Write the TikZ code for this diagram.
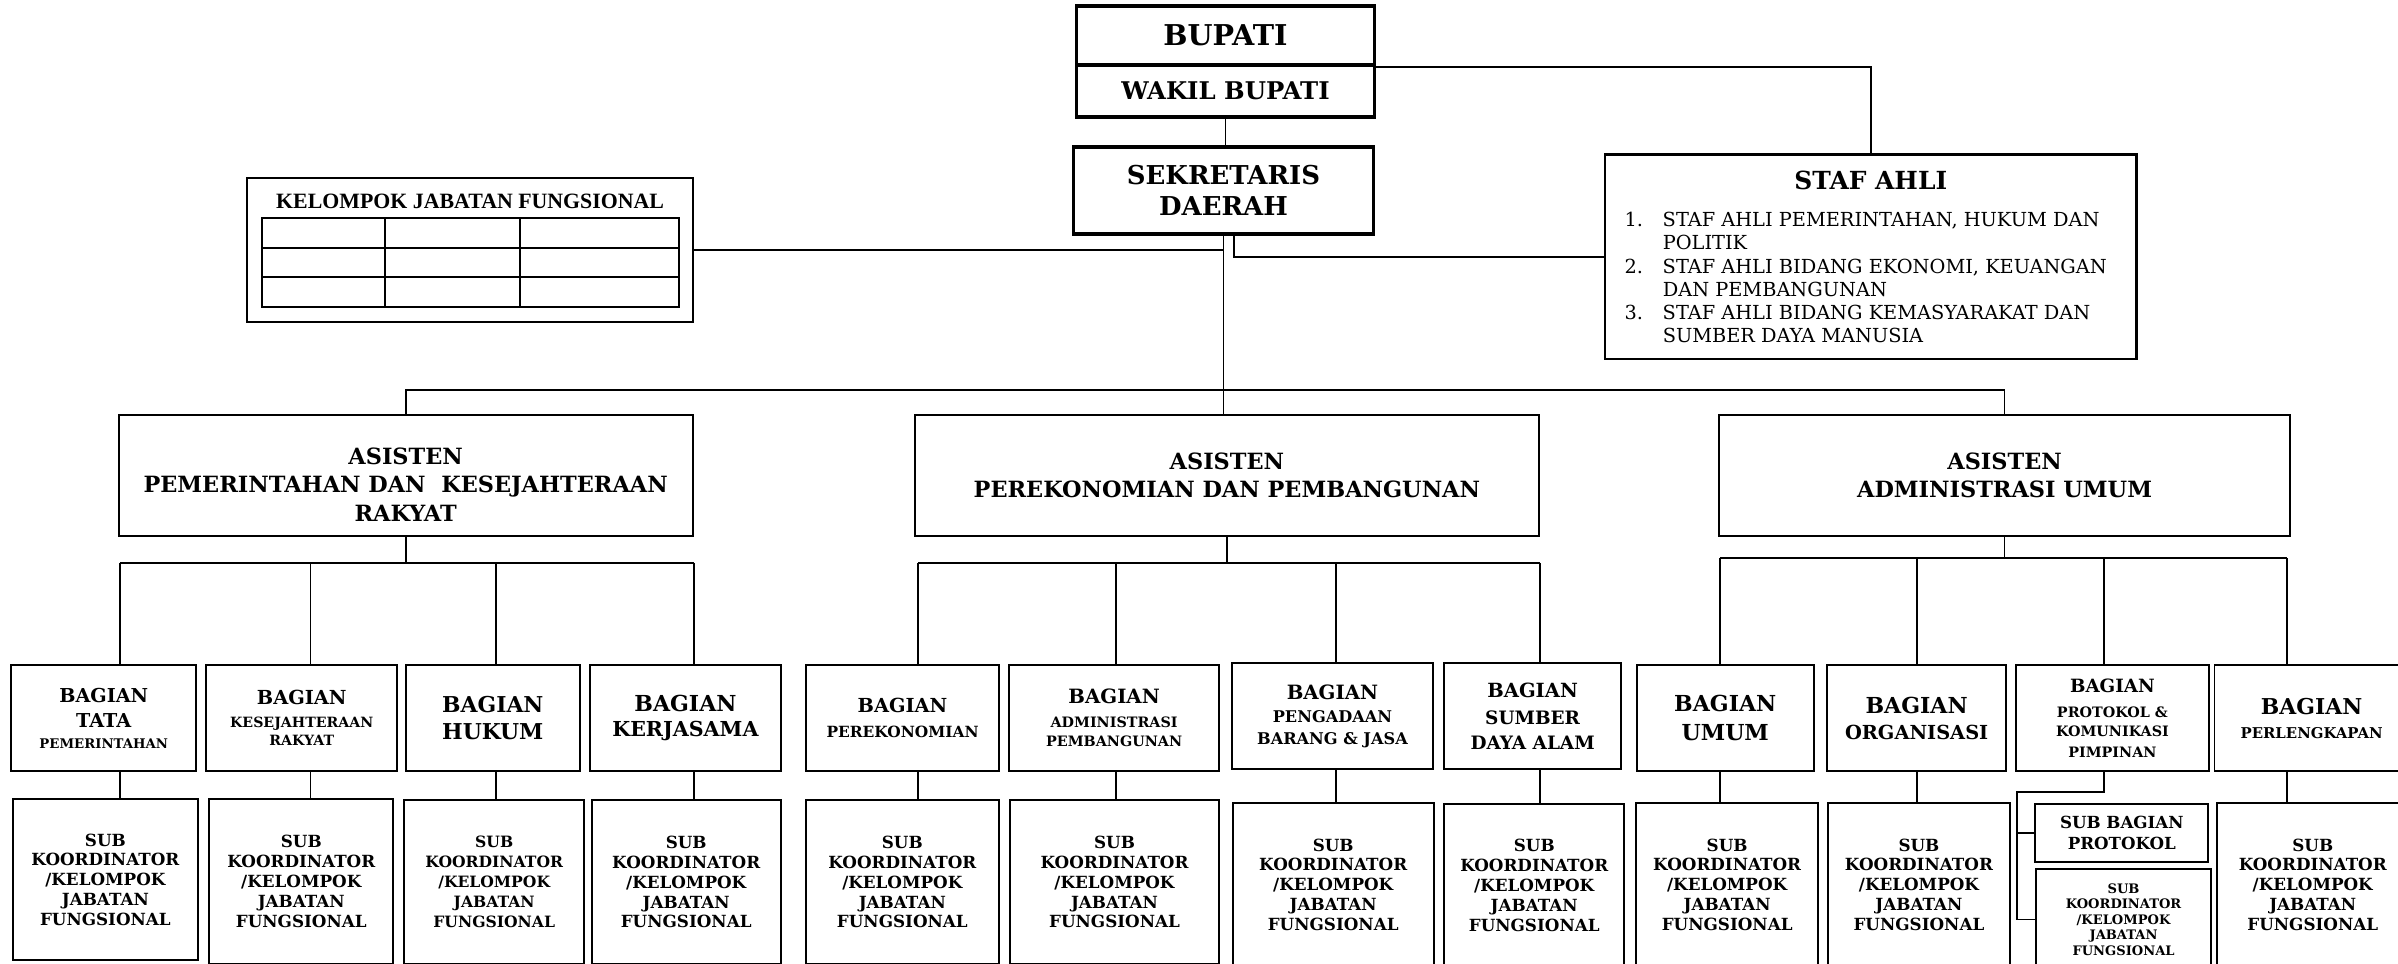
\documentclass[tikz,border=0pt]{standalone}
\usepackage{fontspec}
\setmainfont{DejaVu Serif}
\newfontfamily\judulfont{Liberation Serif}

\begin{document}
\begin{tikzpicture}[x=0.3mm,y=-0.3mm,
  kotak/.style={draw, line width=1.1pt, align=center, inner sep=0pt, font=\bfseries},
  pokok/.style={kotak, line width=1.9pt},
  uk/.style 2 args={font=\fontsize{#1}{#2}\selectfont\bfseries},
  garis/.style={line width=1pt}]
  \useasboundingbox (0,0) rectangle (1568,630);
  % pimpinan
  \node[pokok, uk={16}{19}, minimum width=58.4mm, minimum height=11.55mm] (bupati) at (801.3,23.25) {BUPATI};
  \node[pokok, uk={13.6}{16}, minimum width=58.4mm, minimum height=10.2mm] (wakil) at (801.3,59.5) {WAKIL BUPATI};
  \node[pokok, uk={14.5}{17}, minimum width=58.8mm, minimum height=17.1mm] (sekda) at (800,124.5) {SEKRETARIS\\DAERAH};
  % kelompok jabatan fungsional, with its empty table
  \node[kotak, line width=0.9pt, minimum width=87.45mm, minimum height=28.2mm] (kjf) at (307.25,163.5) {};
  \node[font=\judulfont\bfseries\fontsize{12.2}{14}\selectfont, inner sep=0pt] (kjfjudul) at (307.4,132) {KELOMPOK JABATAN FUNGSIONAL};
  \draw[line width=1.1pt] (171.5,142.5) rectangle (444,200.7);
  \foreach \yy in {162,181} \draw[line width=1.1pt] (171.5,\yy) -- (444,\yy);
  \foreach \xx in {252,340} \draw[line width=1.1pt] (\xx,142.5) -- (\xx,200.7);
  % staf ahli
  \node[kotak, line width=1.2pt, minimum width=104.25mm, minimum height=40.2mm] (staf) at (1223.25,168) {};
  \node[uk={13.9}{16}, inner sep=0pt] (stafjudul) at (1223.25,118) {STAF AHLI};
  \node[font=\fontsize{10.8}{13}\selectfont, align=left, anchor=north west, inner sep=0pt] (stafdaftar) at (1062,138.5) {%
    \makebox[7.5mm][l]{1.}STAF AHLI PEMERINTAHAN, HUKUM DAN\\
    \hspace*{7.5mm}POLITIK\\
    \makebox[7.5mm][l]{2.}STAF AHLI BIDANG EKONOMI, KEUANGAN\\
    \hspace*{7.5mm}DAN PEMBANGUNAN\\
    \makebox[7.5mm][l]{3.}STAF AHLI BIDANG KEMASYARAKAT DAN\\
    \hspace*{7.5mm}SUMBER DAYA MANUSIA};
  % asisten
  \node[kotak, uk={12.5}{15.8}, minimum width=112.65mm, minimum height=23.7mm] (as1) at (265.25,311) {\mbox{}\\[3.5pt]ASISTEN\\PEMERINTAHAN DAN~~KESEJAHTERAAN\\RAKYAT};
  \node[kotak, uk={12.5}{15.6}, minimum width=122.55mm, minimum height=23.7mm] (as2) at (802.25,311) {ASISTEN\\PEREKONOMIAN DAN PEMBANGUNAN};
  \node[kotak, uk={12.5}{15.6}, minimum width=112.05mm, minimum height=23.7mm] (as3) at (1310.75,311) {ASISTEN\\ADMINISTRASI UMUM};
  % bagian
  \node[kotak, uk={10.7}{14.2}, minimum width=36.3mm, minimum height=20.7mm] (b1) at (67.85,469.5) {BAGIAN\\TATA\\[-2.6pt]{\fontsize{7.4}{9}\selectfont PEMERINTAHAN}};
  \node[kotak, uk={10.8}{12.8}, minimum width=37.4mm, minimum height=20.7mm] (b2) at (197.3,469.5) {BAGIAN\\{\fontsize{7.9}{9}\selectfont KESEJAHTERAAN}\\[-2.6pt]{\fontsize{7.9}{9}\selectfont RAKYAT}};
  \node[kotak, uk={12.2}{15.4}, minimum width=34.2mm, minimum height=20.7mm] (b3) at (322.25,469.5) {BAGIAN\\HUKUM};
  \node[kotak, uk={12.3}{13.7}, minimum width=37.3mm, minimum height=20.7mm] (b4) at (448.2,469.5) {BAGIAN\\{\fontsize{11.5}{13}\selectfont KERJASAMA}};
  \node[kotak, uk={10.8}{14}, minimum width=37.9mm, minimum height=20.7mm] (b5) at (590.15,469.5) {BAGIAN\\{\fontsize{8.6}{10}\selectfont PEREKONOMIAN}};
  \node[kotak, uk={11}{13.1}, minimum width=41.1mm, minimum height=20.7mm] (b6) at (728.5,469.5) {BAGIAN\\{\fontsize{8}{9}\selectfont ADMINISTRASI}\\[-2pt]{\fontsize{8}{9}\selectfont PEMBANGUNAN}};
  \node[kotak, uk={11}{13.2}, minimum width=39.4mm, minimum height=20.8mm] (b7) at (871.25,468.35) {BAGIAN\\{\fontsize{9}{10}\selectfont PENGADAAN}\\[-1.2pt]{\fontsize{9}{10}\selectfont BARANG \& JASA}};
  \node[kotak, uk={10.9}{14.9}, minimum width=34.7mm, minimum height=20.8mm] (b8) at (1002.15,468.35) {BAGIAN\\{\fontsize{10.3}{12}\selectfont SUMBER}\\[-1.2pt]{\fontsize{10.3}{12}\selectfont DAYA ALAM}};
  \node[kotak, uk={12.3}{15.9}, minimum width=34.7mm, minimum height=20.7mm] (b9) at (1128.1,469.5) {BAGIAN\\UMUM};
  \node[kotak, uk={12.3}{14.5}, minimum width=35mm, minimum height=20.7mm] (b10) at (1253.25,469.5) {BAGIAN\\{\fontsize{10.8}{12}\selectfont ORGANISASI}};
  \node[kotak, uk={10.2}{13.7}, minimum width=37.7mm, minimum height=20.7mm] (b11) at (1381.25,469.5) {BAGIAN\\{\fontsize{8}{9}\selectfont PROTOKOL \&}\\[-2.6pt]{\fontsize{8}{9}\selectfont KOMUNIKASI}\\[-2.5pt]{\fontsize{8}{9}\selectfont PIMPINAN}};
  \node[kotak, uk={12.2}{13.4}, minimum width=38.1mm, minimum height=20.7mm] (b12) at (1511.5,469.5) {BAGIAN\\{\fontsize{8.3}{9}\selectfont PERLENGKAPAN}};
  % sub koordinator
  \foreach \n/\x/\y/\w/\h/\f in {s1/68.9/575.25/36.4/31.65/9.35, s2/197/576.5/36.1/32.4/9.35,
      s3/323.15/576.75/35.3/32.25/8.7, s4/448.7/576.75/37/32.25/9.35, s5/590/576.75/37.8/32.25/9.35,
      s6/728.75/576.75/40.95/32.25/9.35, s7/871.75/578.5/39.45/32.1/9.35, s8/1003.2/579/35.3/31.8/9.35,
      s9/1129.35/578.5/35.6/32.1/9.35, s10/1254.75/578.5/35.55/32.1/9.35, s12/1512.25/578.5/37.65/32.1/9.35}
    \node[kotak, uk={\f}{11.1}, minimum width=\w mm, minimum height=\h mm] (\n) at (\x,\y) {SUB\\KOORDINATOR\\/KELOMPOK\\JABATAN\\FUNGSIONAL};
  \node[kotak, uk={9.3}{11.7}, minimum width=33.96mm, minimum height=11.4mm] (sbp) at (1387.4,544.8) {SUB BAGIAN\\PROTOKOL};
  \node[kotak, uk={7.3}{8.7}, minimum width=34.2mm, minimum height=19.7mm] (s11) at (1388.55,601.2) {SUB\\KOORDINATOR\\/KELOMPOK\\JABATAN\\FUNGSIONAL};
  % garis komando
  \draw[garis] (bupati.south east) -| (staf.north);
  \draw[garis] (wakil.south) -- (wakil.south |- sekda.north);
  \draw[garis] (sekda.south) -- (sekda.south |- as2.north);
  \draw[garis] (kjf.east) -- (kjf.east -| sekda.south);
  \draw[garis] ([xshift=2.1mm]sekda.south) |- (staf.west);
  \coordinate (busA) at (0,255);
  \draw[garis] (as1.north) |- (as3.north |- busA) -- (as3.north);
  \coordinate (d1) at (78.4,368);   \coordinate (d2) at (203,368);
  \coordinate (d3) at (324.3,368);  \coordinate (d4) at (453.8,368);
  \coordinate (d5) at (600.5,368);  \coordinate (d6) at (729.8,368);
  \coordinate (d7) at (873.4,368);  \coordinate (d8) at (1006.9,368);
  \coordinate (d9) at (1124.6,365); \coordinate (d10) at (1253.3,365);
  \coordinate (d11) at (1375.6,365); \coordinate (d12) at (1495.6,365);
  \foreach \a/\p/\q in {as1/d1/d4, as2/d5/d8, as3/d9/d12}
    \draw[garis] (\a.south) -- (\a.south |- \p) (\p) -- (\q);
  \foreach \d/\b/\s in {d1/b1/s1, d2/b2/s2, d3/b3/s3, d4/b4/s4, d5/b5/s5, d6/b6/s6,
      d7/b7/s7, d8/b8/s8, d9/b9/s9, d10/b10/s10, d12/b12/s12}
    \draw[garis] (\d) -- (\d |- \b.north) (\d |- \b.south) -- (\d |- \s.north);
  \draw[garis] (d11) -- (d11 |- b11.north);
  \coordinate (p1) at (1319,517.7);
  \draw[garis] (d11 |- b11.south) |- (p1) |- (s11.west);
  \draw[garis] (p1 |- sbp.west) -- (sbp.west);
\end{tikzpicture}
\end{document}
